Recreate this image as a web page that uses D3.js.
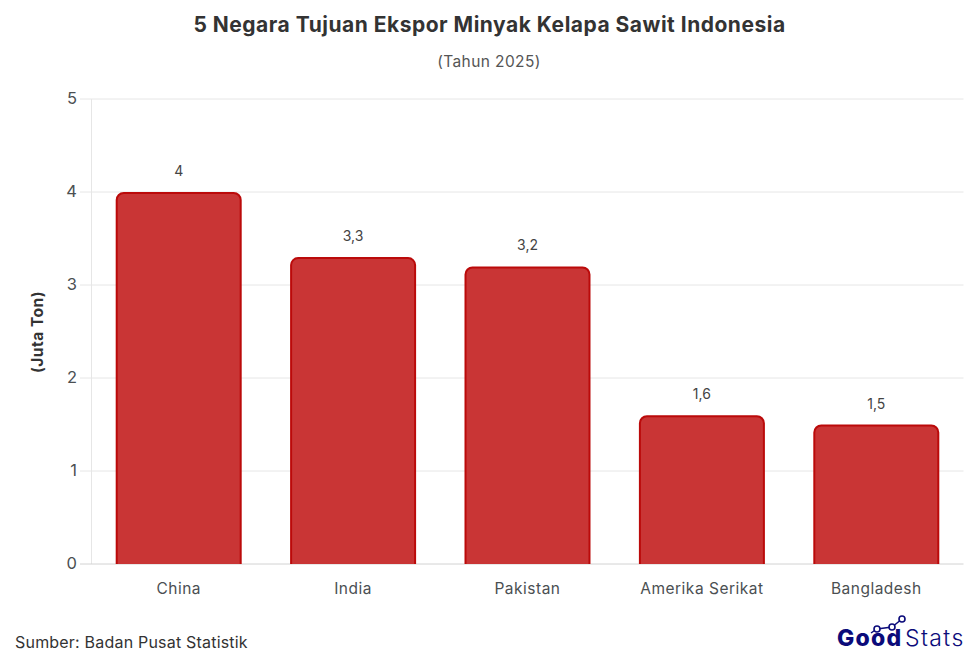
<!DOCTYPE html>
<html>
<head>
<meta charset="utf-8">
<script src="https://cdn.jsdelivr.net/npm/d3@7"></script>
<style>
html,body{margin:0;padding:0;background:#fff;}
text{font-family:Inter,"Open Sans",sans-serif;}
</style>
</head>
<body>
<script>
var categories = ["China", "India", "Pakistan", "Amerika Serikat", "Bangladesh"];
var values = [4, 3.3, 3.2, 1.6, 1.5];
var valueLabels = ["4", "3,3", "3,2", "1,6", "1,5"];
var yTicks = [0, 1, 2, 3, 4, 5];

var svg = d3.select("body").append("svg")
  .attr("width", 976)
  .attr("height", 652)
  .style("display", "block");

var x = d3.scaleBand().domain(categories).range([91.5, 963.5]).paddingInner(0.289).paddingOuter(0.1445);
var y = d3.scaleLinear().domain([0, 5]).range([564, 99]);

// grid
svg.selectAll("line.grid")
  .data(yTicks.filter(function(d) { return d > 0; }))
  .enter().append("line")
  .attr("class", "grid")
  .attr("x1", 80).attr("x2", 963.5)
  .attr("y1", function(d) { return y(d); })
  .attr("y2", function(d) { return y(d); })
  .attr("stroke", "#e6e6e6")
  .attr("stroke-width", 1);

svg.append("line")
  .attr("x1", 91.5).attr("x2", 91.5)
  .attr("y1", y(5)).attr("y2", y(0))
  .attr("stroke", "#e6e6e6");

svg.append("line")
  .attr("x1", 80).attr("x2", 963.5)
  .attr("y1", y(0)).attr("y2", y(0))
  .attr("stroke", "#d2d2d2");

// y axis labels
svg.selectAll("text.ytick")
  .data(yTicks)
  .enter().append("text")
  .attr("class", "ytick")
  .attr("x", 77)
  .attr("y", function(d) { return y(d) + 5; })
  .attr("text-anchor", "end")
  .attr("fill", "#4b4f52")
  .attr("font-size", 16.5)
  .text(function(d) { return d; });

// bars, square at the bottom and rounded on top
svg.selectAll("path.bar")
  .data(values)
  .enter().append("path")
  .attr("class", "bar")
  .attr("d", function(d, i) {
    var p = d3.path();
    var x0 = x(categories[i]), x1 = x0 + x.bandwidth(), top = y(d) + 1, r = 7;
    p.moveTo(x0, y(0));
    p.lineTo(x0, top + r);
    p.arcTo(x0, top, x0 + r, top, r);
    p.lineTo(x1 - r, top);
    p.arcTo(x1, top, x1, top + r, r);
    p.lineTo(x1, y(0));
    return p.toString();
  })
  .attr("fill", "#c93535")
  .attr("stroke", "#bb0a0a")
  .attr("stroke-width", 2);

// value labels
svg.selectAll("text.val")
  .data(values)
  .enter().append("text")
  .attr("class", "val")
  .attr("x", function(d, i) { return x(categories[i]) + x.bandwidth() / 2; })
  .attr("y", function(d) { return y(d) - 16; })
  .attr("text-anchor", "middle")
  .attr("fill", "#444")
  .attr("font-size", 14)
  .text(function(d, i) { return valueLabels[i]; });

// category labels
svg.selectAll("text.cat")
  .data(categories)
  .enter().append("text")
  .attr("class", "cat")
  .attr("x", function(d) { return x(d) + x.bandwidth() / 2; })
  .attr("y", 594)
  .attr("text-anchor", "middle")
  .attr("fill", "#4b4f52")
  .attr("font-size", 15.5)
  .attr("letter-spacing", 0.5)
  .text(function(d) { return d; });

// titles
svg.append("text")
  .attr("x", 489.5).attr("y", 32)
  .attr("text-anchor", "middle")
  .attr("fill", "#333")
  .attr("font-size", 21)
  .attr("font-weight", 700)
  .attr("letter-spacing", 0.5)
  .text("5 Negara Tujuan Ekspor Minyak Kelapa Sawit Indonesia");

svg.append("text")
  .attr("x", 489).attr("y", 67)
  .attr("text-anchor", "middle")
  .attr("fill", "#555")
  .attr("font-size", 15.5)
  .attr("letter-spacing", 0.4)
  .text("(Tahun 2025)");

svg.append("text")
  .attr("transform", "translate(43,332) rotate(-90)")
  .attr("text-anchor", "middle")
  .attr("fill", "#333")
  .attr("font-size", 15.5)
  .attr("font-weight", 700)
  .attr("letter-spacing", 0.5)
  .text("(Juta Ton)");

svg.append("text")
  .attr("x", 15).attr("y", 648)
  .attr("fill", "#333")
  .attr("font-size", 16)
  .attr("letter-spacing", 0.2)
  .text("Sumber: Badan Pusat Statistik");

// logo
var logoColor = "#0b0b7a";
var logo = svg.append("g");
logo.append("text")
  .attr("x", 837).attr("y", 646)
  .attr("fill", logoColor)
  .attr("font-size", 23)
  .attr("font-weight", 800)
  .attr("letter-spacing", 1.2)
  .text("Good");
logo.append("text")
  .attr("x", 905).attr("y", 646)
  .attr("fill", logoColor)
  .attr("font-size", 23)
  .attr("font-weight", 300)
  .attr("letter-spacing", 1.4)
  .text("Stats");

var logoLineX = [871, 877, 892, 902];
var logoLineY = [633, 629, 627, 619];
logo.append("path")
  .attr("d", d3.line()
    .x(function(d) { return d; })
    .y(function(d, i) { return logoLineY[i]; })(logoLineX))
  .attr("fill", "none")
  .attr("stroke", logoColor)
  .attr("stroke-width", 1.5);
logo.selectAll("circle")
  .data(logoLineX.slice(1))
  .enter().append("circle")
  .attr("cx", function(d) { return d; })
  .attr("cy", function(d, i) { return logoLineY[i + 1]; })
  .attr("r", 3)
  .attr("fill", "#fff")
  .attr("stroke", logoColor)
  .attr("stroke-width", 1.6);
</script>
</body>
</html>
